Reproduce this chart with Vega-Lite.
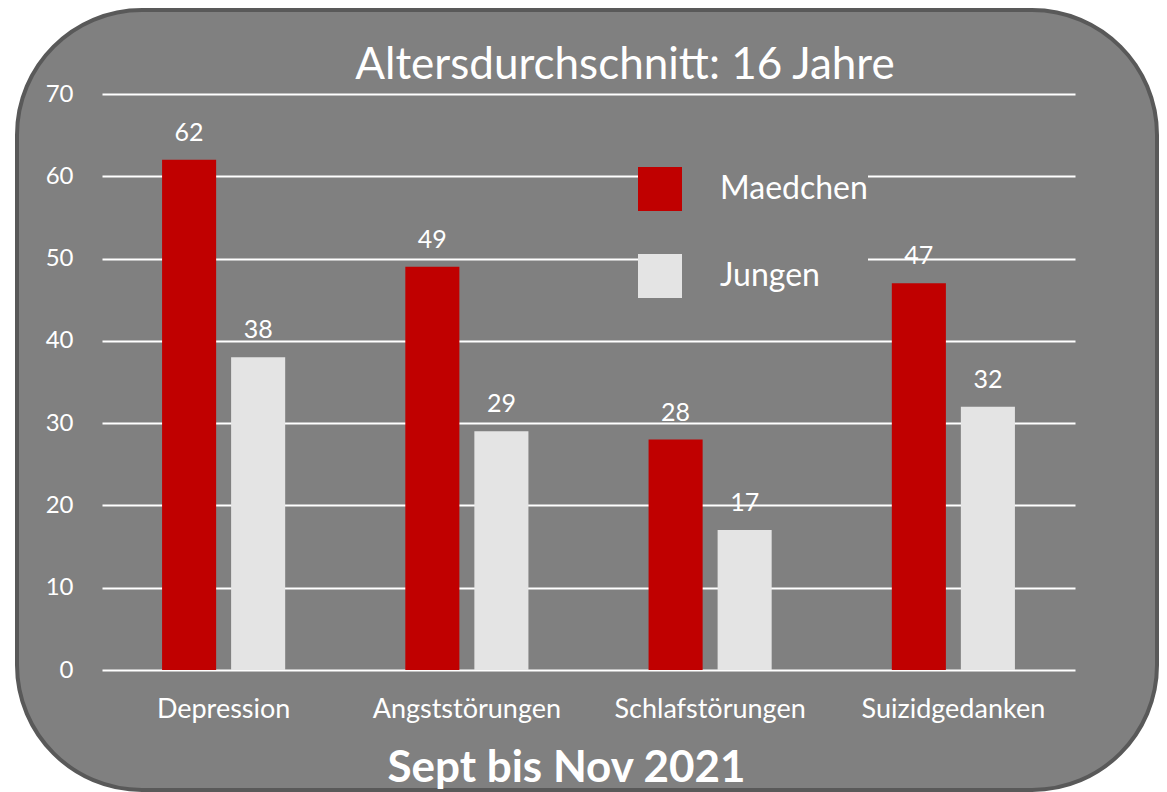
{
  "$schema": "https://vega.github.io/schema/vega-lite/v6.json",
  "width": 1140,
  "height": 780,
  "autosize": "none",
  "padding": {"left": 17, "top": 10, "right": 10, "bottom": 2},
  "background": "white",
  "title": {"text": "Altersdurchschnitt: 16 Jahre", "color": "white", "font": "Lato", "fontSize": 44, "fontWeight": "normal", "anchor": "middle", "dx": 38, "offset": -78},
  "data": {"values": [
    {"Kategorie": "Depression", "Geschlecht": "Maedchen", "Wert": 62},
    {"Kategorie": "Depression", "Geschlecht": "Jungen", "Wert": 38},
    {"Kategorie": "Angststörungen", "Geschlecht": "Maedchen", "Wert": 49},
    {"Kategorie": "Angststörungen", "Geschlecht": "Jungen", "Wert": 29},
    {"Kategorie": "Schlafstörungen", "Geschlecht": "Maedchen", "Wert": 28},
    {"Kategorie": "Schlafstörungen", "Geschlecht": "Jungen", "Wert": 17},
    {"Kategorie": "Suizidgedanken", "Geschlecht": "Maedchen", "Wert": 47},
    {"Kategorie": "Suizidgedanken", "Geschlecht": "Jungen", "Wert": 32}
  ]},
  "encoding": {
    "x": {"field": "Kategorie", "type": "nominal", "sort": null,
      "scale": {"range": [85, 1058], "paddingInner": 0, "paddingOuter": 0},
      "axis": {"title": "Sept bis Nov 2021", "titleColor": "white", "titleFont": "Lato", "titleFontSize": 44, "titleFontWeight": "bold", "titleX": 549, "titleY": 70, "titleBaseline": "middle", "titleAlign": "center",
        "labelAngle": 0, "labelColor": "white", "labelFontSize": 27, "labelFont": "Lato", "labelLimit": 400, "labelPadding": -2, "labelBaseline": "top", "domain": false, "ticks": false, "offset": -92}},
    "xOffset": {"field": "Geschlecht", "type": "nominal", "sort": ["Maedchen", "Jungen"], "scale": {"paddingInner": 0.217, "paddingOuter": 0.87}},
    "y": {"field": "Wert", "type": "quantitative",
      "scale": {"domain": [0, 70], "range": [660, 84], "nice": false},
      "axis": {"title": null, "values": [0, 10, 20, 30, 40, 50, 60, 70], "grid": true, "gridColor": "white", "gridWidth": 2, "gridOpacity": 1, "domain": false, "ticks": false, "labelColor": "white", "labelFontSize": 24, "labelFont": "Lato", "labelPadding": 2, "offset": -58}}
  },
  "layer": [
    {"mark": {"type": "bar"},
     "encoding": {"color": {"field": "Geschlecht", "type": "nominal", "sort": ["Maedchen", "Jungen"],
       "scale": {"domain": ["Maedchen", "Jungen"], "range": ["#C00000", "#E4E4E4"]},
       "legend": {"title": null, "orient": "none", "legendX": 621, "legendY": 157, "symbolType": "square", "symbolSize": 1936, "symbolStrokeWidth": 0, "symbolOpacity": 1, "labelFontSize": 32, "labelColor": "white", "labelFont": "Lato", "labelLimit": 400, "labelOffset": 38, "rowPadding": 43, "fillColor": "#808080", "padding": 0}}}},
    {"mark": {"type": "text", "dy": -27, "baseline": "middle", "color": "white", "fontSize": 25, "font": "Lato"},
     "encoding": {"text": {"field": "Wert", "type": "quantitative"}}}
  ],
  "config": {"view": {"fill": "#808080", "stroke": "#595959", "strokeWidth": 4, "cornerRadius": 125}}
}
